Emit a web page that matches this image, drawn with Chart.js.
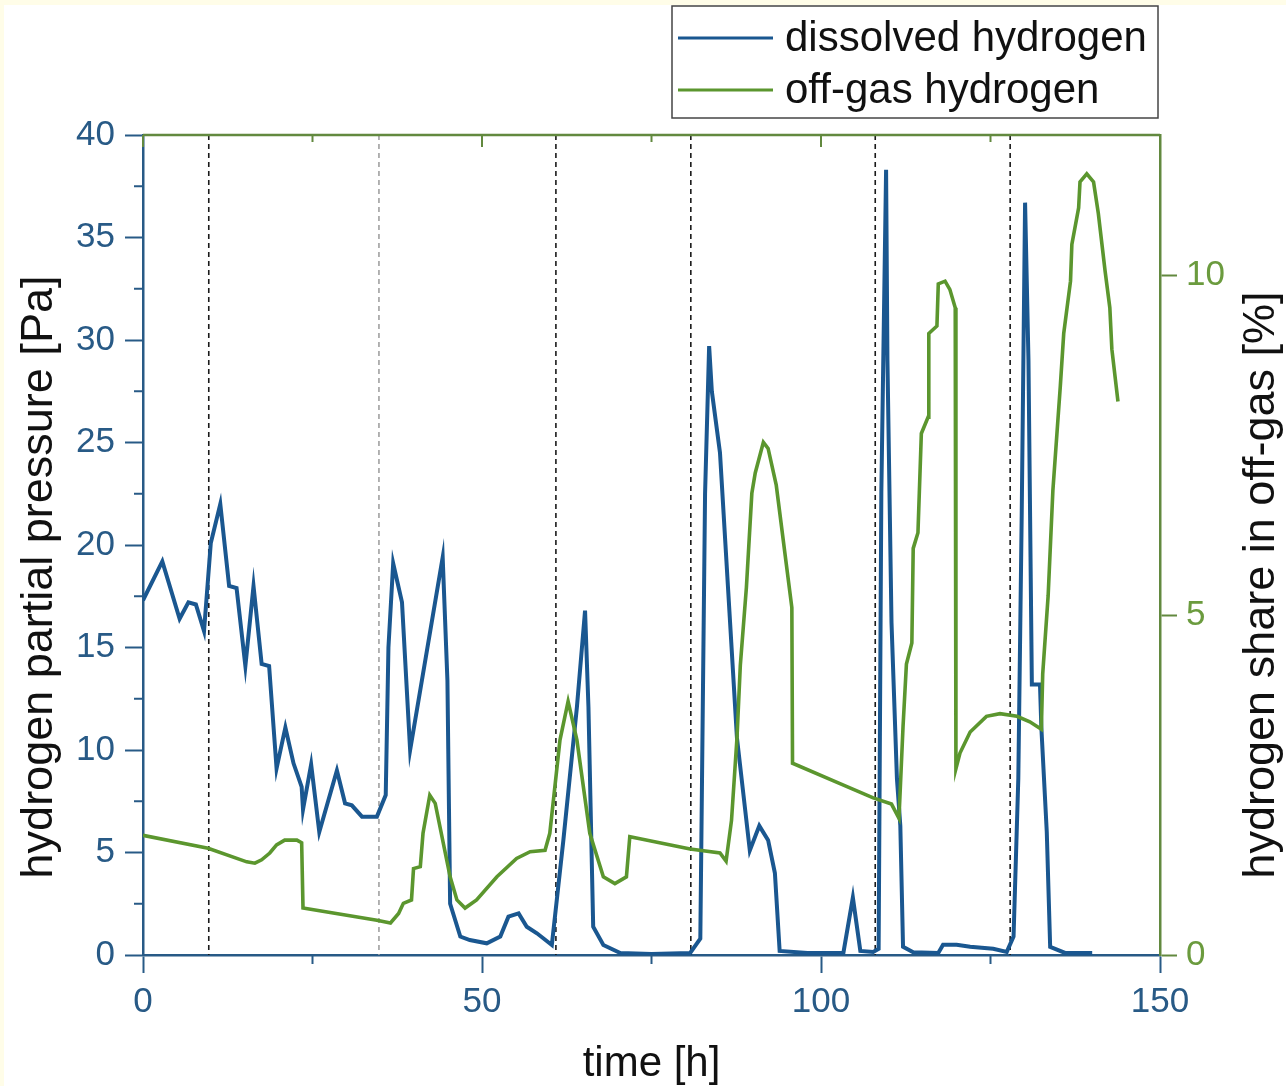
<!DOCTYPE html>
<html>
<head>
<meta charset="utf-8">
<title>Dissolved and off-gas hydrogen</title>
<script src="https://cdn.jsdelivr.net/npm/chart.js@4.4.1/dist/chart.umd.min.js"></script>
<style>
  html, body { margin: 0; padding: 0; background: #fffde8; }
  #wrap { width: 1286px; height: 1086px; }
</style>
</head>
<body>
<div id="wrap"><canvas id="hydrogen-chart" width="1286" height="1086"></canvas></div>
<script>
// dissolved hydrogen, left axis [Pa]
const dissolvedTime = [0, 2.85, 5.4, 6.7, 7.8, 9.0, 10.0, 11.4, 12.7, 13.8, 15.1, 16.3, 17.5, 18.6, 19.7, 21.0, 22.2, 23.4, 23.6, 24.8,
  26.0, 28.6, 29.8, 30.8, 32.3, 34.5, 35.8, 36.2, 36.9, 38.2, 39.4, 44.2, 44.9, 45.3, 46.8, 48.2, 50.7, 52.7, 53.9, 55.4,
  56.6, 58.1, 60.3, 62.0, 64.0, 65.2, 65.7, 66.4, 67.9, 70.4, 75, 80.7, 82.2, 82.9, 83.5, 83.9, 85.1, 87.6, 89.5, 90.9,
  92.2, 93.2, 93.9, 98, 103.3, 104.7, 105.8, 107.7, 108.5, 108.9, 109.6, 109.8, 110.4, 111.2, 111.7, 112.1, 113.6, 117.3, 118.0, 120.0,
  122.0, 125.4, 127.4, 128.4, 129.1, 129.6, 130.1, 130.6, 131.1, 132.3, 132.5, 133.3, 133.8, 136, 140];
const dissolvedPa = [17.3, 19.2, 16.4, 17.2, 17.1, 15.8, 20.1, 22.0, 18.0, 17.9, 14.1, 18.0, 14.2, 14.1, 9.1, 11.1, 9.35, 8.2, 7.1, 9.3,
  6.0, 9.0, 7.4, 7.3, 6.75, 6.75, 7.8, 15.0, 19.1, 17.2, 10.0, 19.4, 13.4, 2.5, 0.9, 0.73, 0.57, 0.9, 1.87, 2.03,
  1.38, 1.06, 0.49, 5.6, 12.1, 16.8, 12.1, 1.38, 0.49, 0.1, 0.05, 0.1, 0.8, 22.5, 29.7, 27.5, 24.5, 10.6, 5.1, 6.3,
  5.6, 4.0, 0.2, 0.1, 0.1, 2.8, 0.2, 0.15, 0.3, 22.6, 38.3, 29.0, 16.2, 8.6, 6.3, 0.4, 0.13, 0.1, 0.5, 0.5,
  0.4, 0.3, 0.15, 0.9, 8.6, 21.4, 36.7, 29.0, 13.2, 13.2, 11.1, 6.0, 0.4, 0.1, 0.1];

// off-gas hydrogen, right axis [%]
const offgasTime = [0, 9.6, 15.3, 16.5, 17.5, 18.7, 19.7, 20.9, 22.7, 23.4, 23.6, 34.5, 36.5, 37.7, 38.4, 39.6, 39.9, 40.9, 41.3, 42.3,
  43.1, 45.3, 46.3, 47.5, 49.2, 52.2, 55.1, 57.1, 59.3, 60.0, 61.5, 62.7, 64.0, 65.9, 67.9, 69.6, 71.3, 71.8, 73.3, 80.7,
  85.1, 86.0, 86.8, 87.6, 88.1, 89.0, 89.8, 90.3, 91.5, 92.2, 93.4, 94.7, 95.7, 95.8, 102.8, 107.7, 110.4, 111.5, 112.1, 112.6,
  113.4, 113.6, 114.3, 114.8, 115.8, 115.9, 117.1, 117.3, 118.3, 119.0, 119.8, 119.9, 120.5, 122.0, 124.4, 126.4, 128.9, 130.8, 132.5, 132.7,
  133.5, 134.2, 135.3, 135.8, 136.8, 137.0, 138.0, 138.2, 139.2, 140.2, 140.9, 141.9, 142.6, 142.9, 143.8];
const offgasPct = [1.76, 1.57, 1.37, 1.35, 1.40, 1.50, 1.62, 1.69, 1.69, 1.65, 0.69, 0.51, 0.47, 0.61, 0.76, 0.81, 1.27, 1.30, 1.79, 2.35,
  2.23, 1.15, 0.81, 0.69, 0.81, 1.15, 1.42, 1.52, 1.54, 1.79, 3.16, 3.73, 3.16, 1.79, 1.15, 1.05, 1.15, 1.74, 1.71, 1.56,
  1.50, 1.38, 1.98, 3.18, 4.26, 5.41, 6.79, 7.09, 7.54, 7.45, 6.91, 5.89, 5.11, 2.82, 2.52, 2.31, 2.22, 2.01, 3.36, 4.28,
  4.59, 5.98, 6.21, 7.67, 7.91, 9.14, 9.25, 9.87, 9.91, 9.79, 9.52, 2.74, 2.97, 3.28, 3.51, 3.55, 3.51, 3.43, 3.32, 4.13,
  5.28, 6.83, 8.37, 9.14, 9.91, 10.45, 10.99, 11.37, 11.49, 11.37, 10.91, 10.06, 9.52, 8.91, 8.14];

// dashed phase markers [h]
const phaseTimes = [9.7, 34.8, 60.9, 80.8, 108.0, 127.9];

const timeTicks = [0, 50, 100, 150];
const pressureTicks = [0, 5, 10, 15, 20, 25, 30, 35, 40];
const shareTicks = [0, 5, 10];

const seriesLabels = ["dissolved hydrogen", "off-gas hydrogen"];

const BLUE = "#1a5790";
const BLUE_AXIS = "#285a86";
const GREEN = "#5b962e";
const GREEN_AXIS = "#62893f";
const FONT = "'Liberation Sans', Arial, sans-serif";

function toPoints(xs, ys) {
  return xs.map((x, i) => ({ x: x, y: ys[i] }));
}

const axisExtras = {
  id: "axisExtras",
  beforeDraw(chart) {
    const { ctx, width, height } = chart;
    ctx.save();
    ctx.fillStyle = "#fffde8";
    ctx.fillRect(0, 0, width, height);
    ctx.fillStyle = "#ffffff";
    ctx.fillRect(4, 5, width - 4, height - 5);
    ctx.restore();
  },
  beforeDatasetsDraw(chart) {
    const { ctx, chartArea, scales } = chart;
    ctx.save();
    ctx.lineWidth = 1.6;
    ctx.setLineDash([5, 4]);
    phaseTimes.forEach((t, i) => {
      const x = scales.x.getPixelForValue(t);
      ctx.strokeStyle = i === 1 ? "#a0a0a0" : "#1a1a1a";
      ctx.beginPath();
      ctx.moveTo(x, chartArea.top);
      ctx.lineTo(x, chartArea.bottom);
      ctx.stroke();
    });
    ctx.restore();
  },
  afterDraw(chart) {
    const { ctx, chartArea, scales } = chart;
    const { left, right, top, bottom } = chartArea;
    ctx.save();

    // top frame with inward ticks
    ctx.strokeStyle = GREEN_AXIS;
    ctx.lineWidth = 2.5;
    ctx.beginPath();
    ctx.moveTo(left, top);
    ctx.lineTo(right, top);
    ctx.stroke();
    ctx.lineWidth = 2;
    for (let t = 0; t <= 150; t += 25) {
      const x = scales.x.getPixelForValue(t);
      const len = t % 50 === 0 ? 12 : 7;
      ctx.beginPath();
      ctx.moveTo(x, top);
      ctx.lineTo(x, top + len);
      ctx.stroke();
    }

    // minor ticks, bottom and left
    ctx.strokeStyle = BLUE_AXIS;
    for (let t = 25; t < 150; t += 50) {
      const x = scales.x.getPixelForValue(t);
      ctx.beginPath();
      ctx.moveTo(x, bottom);
      ctx.lineTo(x, bottom + 9);
      ctx.stroke();
    }
    for (let v = 2.5; v < 40; v += 5) {
      const y = scales.y.getPixelForValue(v);
      ctx.beginPath();
      ctx.moveTo(left - 9, y);
      ctx.lineTo(left, y);
      ctx.stroke();
    }

    // y axis titles, both read bottom to top
    ctx.fillStyle = "#111111";
    ctx.font = "45px " + FONT;
    ctx.textAlign = "center";
    ctx.textBaseline = "middle";
    ctx.save();
    ctx.translate(40, 577);
    ctx.rotate(-Math.PI / 2);
    ctx.fillText("hydrogen partial pressure [Pa]", 0, 0);
    ctx.restore();
    ctx.save();
    ctx.translate(1262, 585);
    ctx.rotate(-Math.PI / 2);
    ctx.fillText("hydrogen share in off-gas [%]", 0, 0);
    ctx.restore();

    // legend box
    ctx.fillStyle = "#ffffff";
    ctx.fillRect(672, 6, 486, 112);
    ctx.strokeStyle = "#444444";
    ctx.lineWidth = 1.5;
    ctx.strokeRect(672, 6, 486, 112);
    ctx.font = "42px " + FONT;
    ctx.textAlign = "left";
    chart.data.datasets.forEach((ds, i) => {
      const y = 38 + i * 52;
      ctx.strokeStyle = ds.borderColor;
      ctx.lineWidth = 3;
      ctx.beginPath();
      ctx.moveTo(678, y);
      ctx.lineTo(773, y);
      ctx.stroke();
      ctx.fillStyle = "#111111";
      ctx.fillText(ds.label, 785, y + 1);
    });

    ctx.restore();
  }
};

new Chart("hydrogen-chart", {
  type: "line",
  data: {
    datasets: [
      {
        label: seriesLabels[0],
        data: toPoints(dissolvedTime, dissolvedPa),
        borderColor: BLUE,
        borderWidth: 4,
        pointRadius: 0,
        tension: 0,
        yAxisID: "y",
        order: 1,
      },
      {
        label: seriesLabels[1],
        data: toPoints(offgasTime, offgasPct),
        borderColor: GREEN,
        borderWidth: 3.6,
        pointRadius: 0,
        tension: 0,
        yAxisID: "y1",
        order: 0,
      },
    ],
  },
  options: {
    responsive: false,
    animation: false,
    devicePixelRatio: 1,
    layout: { padding: { top: 135, left: 0, right: 0, bottom: 0 } },
    plugins: {
      legend: { display: false },
      tooltip: { enabled: false },
    },
    scales: {
      x: {
        type: "linear",
        position: "bottom",
        min: 0,
        max: 150,
        afterBuildTicks: (scale) => { scale.ticks = timeTicks.map((v) => ({ value: v })); },
        afterFit: (scale) => { scale.height = 131; },
        grid: { drawOnChartArea: false, tickLength: 18, tickColor: BLUE_AXIS, tickWidth: 2 },
        border: { color: BLUE_AXIS, width: 2.5 },
        ticks: { color: BLUE_AXIS, font: { family: FONT, size: 35 }, padding: 8, maxRotation: 0, autoSkip: false },
        title: { display: true, text: "time [h]", color: "#111111", font: { family: FONT, size: 42 }, padding: { top: 0, bottom: -4 } },
      },
      y: {
        type: "linear",
        position: "left",
        min: 0,
        max: 40,
        afterBuildTicks: (scale) => { scale.ticks = pressureTicks.map((v) => ({ value: v })); },
        afterFit: (scale) => { scale.width = 143; },
        grid: { drawOnChartArea: false, tickLength: 18, tickColor: BLUE_AXIS, tickWidth: 2 },
        border: { color: BLUE_AXIS, width: 2.5 },
        ticks: { color: BLUE_AXIS, font: { family: FONT, size: 35 }, padding: 10 },
      },
      y1: {
        type: "linear",
        position: "right",
        min: 0,
        max: 12.06,
        afterBuildTicks: (scale) => { scale.ticks = shareTicks.map((v) => ({ value: v })); },
        afterFit: (scale) => { scale.width = 126; },
        grid: { drawOnChartArea: false, tickLength: 17, tickColor: GREEN_AXIS, tickWidth: 2 },
        border: { color: GREEN_AXIS, width: 2.5 },
        ticks: { color: "#6b9b3e", font: { family: FONT, size: 35 }, padding: 9 },
      },
    },
  },
  plugins: [axisExtras],
});
</script>
</body>
</html>
